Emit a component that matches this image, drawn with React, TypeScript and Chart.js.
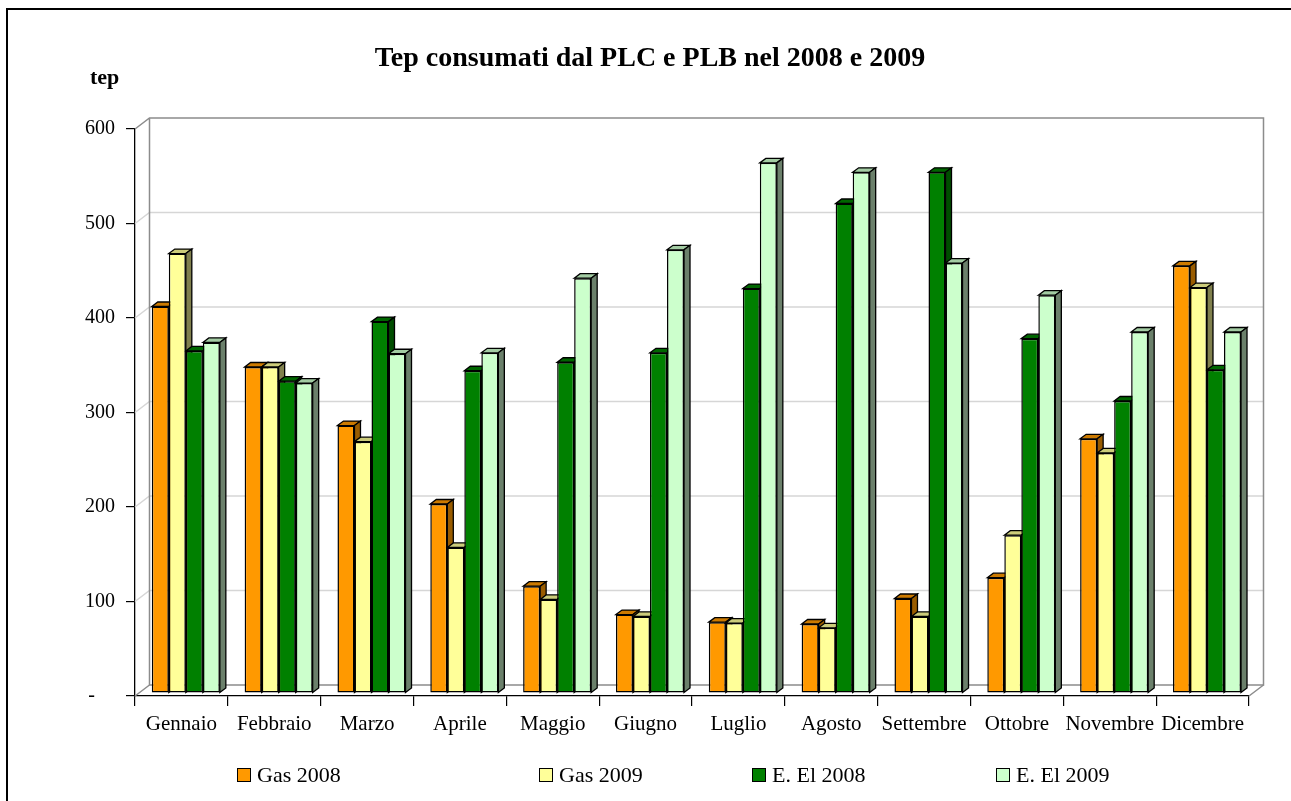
import React, { useEffect, useRef } from "react";
import { Chart, registerables } from "chart.js";

Chart.register(...registerables);

const months = ["Gennaio", "Febbraio", "Marzo", "Aprile", "Maggio", "Giugno", "Luglio", "Agosto", "Settembre", "Ottobre", "Novembre", "Dicembre"];
const gas2008 = [409, 345, 283, 200, 113, 83, 75, 73, 100, 122, 269, 452];
const gas2009 = [465, 345, 266, 154, 99, 81, 74, 69, 81, 167, 254, 429];
const el2008 = [362, 330, 393, 341, 350, 360, 428, 518, 551, 375, 309, 342];
const el2009 = [371, 328, 359, 360, 439, 469, 561, 551, 455, 421, 382, 382];
const seriesNames = ["Gas 2008", "Gas 2009", "E. El 2008", "E. El 2009"];
const seriesValues = [gas2008, gas2009, el2008, el2009];
const yMax = 600;
const yStep = 100;

const frontColors = ["#FF9900", "#FFFF99", "#008000", "#CCFFCC"];
const topColors = ["#CC7A00", "#CCCC7A", "#006600", "#A3CCA3"];
const sideColors = ["#995C00", "#80804D", "#004D00", "#6B806B"];
const legendX = [237, 539, 752, 996];

const FONT = "'Liberation Serif', 'Times New Roman', serif";

// 3D geometry
const WALL_DX = 14.5;
const WALL_DY = 11;
const BAR_SHIFT_X = 4.4;
const BAR_SHIFT_Y = -3;
const FACE_DX = 6;
const FACE_DY = 4.5;

const threeD = {
  id: "threeD",
  beforeDatasetsDraw(chart: any) {
    const { ctx, chartArea } = chart;
    const yScale = chart.scales.y;
    const L = chartArea.left;
    const R = chartArea.right;
    const T = chartArea.top;
    const B = chartArea.bottom;
    ctx.save();
    ctx.lineWidth = 1.5;
    ctx.strokeStyle = "#D6D6D6";
    for (let v = yStep; v < yMax; v += yStep) {
      const y = yScale.getPixelForValue(v);
      ctx.beginPath();
      ctx.moveTo(L, y);
      ctx.lineTo(L + WALL_DX, y - WALL_DY);
      ctx.lineTo(R + WALL_DX, y - WALL_DY);
      ctx.stroke();
    }
    ctx.strokeStyle = "#8C8C8C";
    ctx.lineWidth = 1.5;
    ctx.beginPath();
    ctx.moveTo(L, T);
    ctx.lineTo(L + WALL_DX, T - WALL_DY);
    ctx.lineTo(R + WALL_DX, T - WALL_DY);
    ctx.lineTo(R + WALL_DX, B - WALL_DY);
    ctx.lineTo(L + WALL_DX, B - WALL_DY);
    ctx.lineTo(L + WALL_DX, T - WALL_DY);
    ctx.stroke();
    ctx.beginPath();
    ctx.moveTo(L, B);
    ctx.lineTo(L + WALL_DX, B - WALL_DY);
    ctx.moveTo(R, B);
    ctx.lineTo(R + WALL_DX, B - WALL_DY);
    ctx.stroke();
    ctx.restore();

    ctx.save();
    ctx.translate(BAR_SHIFT_X, BAR_SHIFT_Y);
    ctx.lineWidth = 1.3;
    ctx.strokeStyle = "#000";
    const n = chart.data.labels.length;
    for (let i = 0; i < n; i++) {
      chart.data.datasets.forEach((ds: any, di: number) => {
        const meta = chart.getDatasetMeta(di);
        const el = meta.data[i];
        if (!el) return;
        const p = el.getProps(["x", "y", "base", "width"], true);
        const l = p.x - p.width / 2;
        const r = p.x + p.width / 2;
        const top = p.y;
        const base = p.base;
        ctx.fillStyle = topColors[di];
        ctx.beginPath();
        ctx.moveTo(l, top);
        ctx.lineTo(l + FACE_DX, top - FACE_DY);
        ctx.lineTo(r + FACE_DX, top - FACE_DY);
        ctx.lineTo(r, top);
        ctx.closePath();
        ctx.fill();
        ctx.stroke();
        ctx.fillStyle = sideColors[di];
        ctx.beginPath();
        ctx.moveTo(r, top);
        ctx.lineTo(r + FACE_DX, top - FACE_DY);
        ctx.lineTo(r + FACE_DX, base - FACE_DY);
        ctx.lineTo(r, base);
        ctx.closePath();
        ctx.fill();
        ctx.stroke();
      });
    }
    ctx.restore();
    ctx.save();
    ctx.translate(BAR_SHIFT_X, BAR_SHIFT_Y);
  },
  afterDatasetsDraw(chart: any) {
    chart.ctx.restore();
  },
};

export default function App() {
  const canvasRef = useRef<HTMLCanvasElement | null>(null);

  useEffect(() => {
    if (!canvasRef.current) return;
    Chart.defaults.font.family = FONT;
    const chart = new Chart(canvasRef.current, {
      type: "bar",
      data: {
        labels: months,
        datasets: seriesValues.map((vals, i) => ({
          label: seriesNames[i],
          data: vals,
          backgroundColor: frontColors[i],
          borderColor: "#000",
          borderWidth: 1.5,
          borderSkipped: false,
          categoryPercentage: 0.733,
          barPercentage: 1,
          clip: false as any,
        })),
      },
      options: {
        animation: false,
        responsive: false,
        maintainAspectRatio: false,
        layout: { padding: { left: 0, right: 42, top: 129, bottom: 0 } },
        plugins: {
          legend: { display: false },
          title: { display: false },
          tooltip: { enabled: false },
        },
        scales: {
          x: {
            grid: { drawOnChartArea: false, drawTicks: true, tickLength: 10, color: "#000", lineWidth: 1.2 },
            border: { color: "#000", width: 1.3 },
            ticks: { color: "#000", font: { size: 21, family: FONT }, padding: 6, maxRotation: 0, autoSkip: false },
            afterFit: (s: any) => { s.height = 105; },
          },
          y: {
            min: 0,
            max: yMax,
            grid: { drawOnChartArea: false, drawTicks: true, tickLength: 9, color: "#000", lineWidth: 1.2 },
            border: { color: "#000", width: 1.3 },
            ticks: {
              stepSize: yStep,
              color: "#000",
              padding: 11,
              font: { size: 20, family: FONT },
              callback: (v: any) => (v === 0 ? "-    " : String(v)),
            },
            afterFit: (s: any) => { s.width = 135; },
          },
        },
      },
      plugins: [threeD],
    });
    return () => chart.destroy();
  }, []);

  return (
    <div style={{ position: "fixed", left: 0, top: 0, width: 1291, height: 801, overflow: "hidden", background: "#fff", fontFamily: FONT }}>
      <div style={{ position: "absolute", left: 6, top: 8, width: 1320, height: 830, border: "2px solid #000", boxSizing: "border-box" }} />
      <canvas ref={canvasRef} width={1291} height={801} style={{ position: "absolute", left: 0, top: 0, width: 1291, height: 801 }} />
      <div style={{ position: "absolute", left: 0, width: 1300, top: 40, textAlign: "center", fontWeight: "bold", fontSize: 28, lineHeight: "34px", color: "#000" }}>
        Tep consumati dal PLC e PLB nel 2008 e 2009
      </div>
      <div style={{ position: "absolute", left: 90, top: 63, fontWeight: "bold", fontSize: 22, lineHeight: "28px", color: "#000" }}>tep</div>
      {seriesNames.map((name, i) => (
        <div key={name} style={{ position: "absolute", left: legendX[i], top: 762, height: 26, display: "flex", alignItems: "center", fontSize: 22, color: "#000" }}>
          <span style={{ display: "inline-block", width: 12, height: 12, border: "1.5px solid #000", background: frontColors[i], marginRight: 6 }} />
          <span>{name}</span>
        </div>
      ))}
    </div>
  );
}
